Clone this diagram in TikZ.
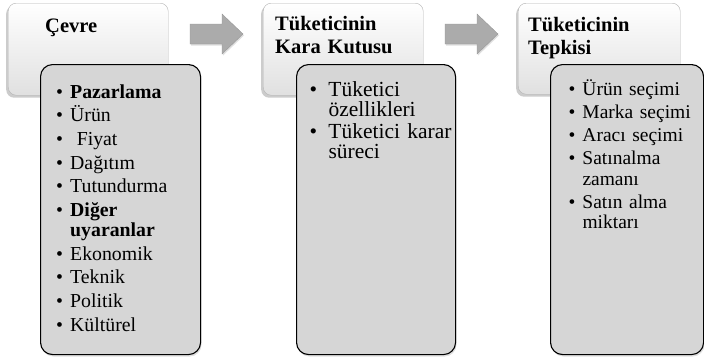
\documentclass[tikz,border=0pt]{standalone}
\usepackage{fontspec}
\setmainfont{Liberation Serif}
\usetikzlibrary{shadows,positioning}
\newcommand{\tight}{\lineskiplimit=-50pt\relax}
\newcommand{\blt}[1][14pt]{\makebox[#1][l]{\textbullet}}
\newcommand{\hng}[1][14pt]{\hspace*{#1}}
\tikzset{
  topbox/.style={draw=black!30,rounded corners=8pt,top color=white,bottom color=black!12,
    minimum width=160pt,minimum height=92pt,anchor=north west,inner sep=0pt,
    drop shadow={opacity=.4,shadow xshift=-2pt,shadow yshift=-2.5pt}},
  listbox/.style={draw=black,line width=1.1pt,rounded corners=12pt,fill=black!16,
    minimum height=290pt,anchor=north west,inner sep=0pt,
    drop shadow={opacity=.25,shadow xshift=1pt,shadow yshift=-2pt}},
  title/.style={anchor=base west,inner sep=0pt,text width=150pt,align=left,
    font=\bfseries\fontsize{20.5}{22.5}\selectfont\tight},
  items/.style={anchor=base west,inner sep=0pt,text width=150pt,align=left},
  blockarrow/.style={fill=black!33,draw=black!40,line width=.4pt,
    drop shadow={opacity=.25,shadow xshift=1pt,shadow yshift=-1.5pt}}
}

\begin{document}
\begin{tikzpicture}[x=1pt,y=-1pt]
\useasboundingbox (0,0) rectangle (704,357);

\node[topbox] (cevre) at (8,3) {};
\node[topbox] (kutu) at (263,3) {};
\node[topbox,minimum width=162pt,minimum height=91pt] (tepki) at (518,3) {};

\foreach \x in {190,445}
  \draw[blockarrow] (\x,24) -- ++(32,0) -- ++(0,-10) -- ++(21,20) -- ++(-21,20)
    -- ++(0,-10) -- ++(-32,0) -- cycle;

\node[listbox,minimum width=160pt] (cevrelist) at (40,64) {};
\node[listbox,minimum width=159pt] (kutulist) at (296,64) {};
\node[listbox,minimum width=153pt] (tepkilist) at (550,64) {};

\node[title] (cevretitle) at (45,32) {Çevre};
\node[title] (kututitle) at (275,30.7) {Tüketicinin\\Kara Kutusu};
\node[title] (tepkititle) at (528,31.7) {Tüketicinin\\Tepkisi};

\node[items,font=\fontsize{19.8}{20}\selectfont\tight] (cevreitems) at (56,98)
  {\blt\textbf{Pazarlama}\\[3.7pt]
   \blt Ürün\\[3.7pt]
   \blt\ Fiyat\\[3.7pt]
   \blt Dağıtım\\[3.7pt]
   \blt Tutundurma\\[3.7pt]
   \blt\textbf{Diğer}\\
   \hng\textbf{uyaranlar}\\[3.7pt]
   \blt Ekonomik\\[3.7pt]
   \blt Teknik\\[3.7pt]
   \blt Politik\\[3.7pt]
   \blt Kültürel};

\node[items,font=\fontsize{21.5}{19.5}\selectfont\tight] (kutuitems) at (309.3,96.7)
  {\blt[19pt]Tüketici\\
   \hng[19pt]özellikleri\\[3pt]
   \blt[19pt]Tüketici karar\\
   \hng[19pt]süreci};

\node[items,font=\fontsize{19.5}{20.5}\selectfont\tight] (tepkiitems) at (568.3,95.7)
  {\blt Ürün seçimi\\[2.5pt]
   \blt Marka seçimi\\[2.5pt]
   \blt Aracı seçimi\\[2.5pt]
   \blt Satınalma\\
   \hng zamanı\\[2.5pt]
   \blt Satın alma\\
   \hng miktarı};

\end{tikzpicture}
\end{document}
